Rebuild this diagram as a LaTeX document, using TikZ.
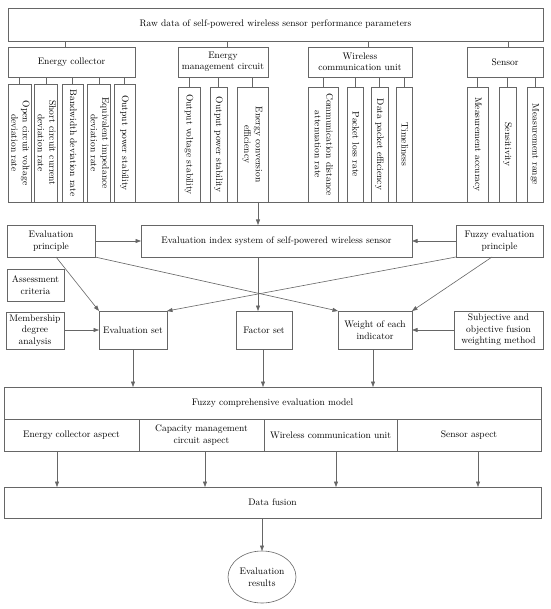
\documentclass[tikz,border=0pt]{standalone}
\usepackage{graphicx}
\usetikzlibrary{arrows.meta,shapes.geometric}
\begin{document}
\begin{tikzpicture}[x=1pt,y=-1pt,
  every node/.style={font=\fontsize{9.5}{11.5}\selectfont, inner sep=0pt, outer sep=0pt, align=center, text=black},
  bx/.style n args={2}{draw=black!60, line width=0.6pt, minimum width=#1pt, minimum height=#2pt},
  ln/.style={draw=black!60, line width=0.6pt},
  arr/.style={draw=black!60, line width=0.6pt, -{Triangle[length=5.5pt,width=4pt]}, shorten >=0pt}
]
\useasboundingbox[fill=white] (0,0) rectangle (550,609);
\newcommand{\rt}[1]{\rotatebox{-90}{\begin{tabular}{@{}c@{}}#1\end{tabular}}}
% top
\node[bx={535}{33}] (raw) at (275.5,24.5) {Raw data of self-powered wireless sensor performance parameters};
\node[bx={127}{30}] (ec) at (71.5,62) {Energy collector};
\node[bx={90}{30}] (emc) at (223,62) {Energy\\management circuit};
\node[bx={104}{30}] (wcu) at (360,62) {Wireless\\communication unit};
\node[bx={76}{30}] (sen) at (505,62) {Sensor};
\draw[ln] ([xshift=-6.5pt]ec.north) -- ([xshift=-6.5pt]ec.north |- raw.south);
\draw[ln] ([xshift=4pt]emc.north) -- ([xshift=4pt]emc.north |- raw.south);
\draw[ln] ([xshift=8pt]wcu.north) -- ([xshift=8pt]wcu.north |- raw.south);
\draw[ln] ([xshift=3pt]sen.north) -- ([xshift=3pt]sen.north |- raw.south);
% sub boxes
\node[bx={23}{118}] (ec1) at (19.5,143) {\rt{Open circuit voltage\\deviation rate}};
\node[bx={22}{118}] (ec2) at (46,143) {\rt{Short circuit current\\deviation rate}};
\node[bx={21}{118}] (ec3) at (72.5,143) {\rt{Bandwidth deviation rate}};
\node[bx={22}{118}] (ec4) at (99,143) {\rt{Equivalent impedance\\deviation rate}};
\node[bx={21}{118}] (ec5) at (124.5,143) {\rt{Output power stability}};
\node[bx={22}{115}] (emc1) at (189,144.5) {\rt{Output voltage stability}};
\node[bx={17}{115}] (emc2) at (218.5,144.5) {\rt{Output power stability}};
\node[bx={31}{115}] (emc3) at (252.5,144.5) {\rt{Energy conversion\\efficiency}};
\node[bx={30}{115}] (wcu1) at (323,144.5) {\rt{Communication distance\\attenuation rate}};
\node[bx={16}{115}] (wcu2) at (355,144.5) {\rt{Packet loss rate}};
\node[bx={17}{115}] (wcu3) at (379.5,144.5) {\rt{Data packet efficiency}};
\node[bx={16}{115}] (wcu4) at (404,144.5) {\rt{Timeliness}};
\node[bx={21}{115}] (sen1) at (477.5,144.5) {\rt{Measurement accuracy}};
\node[bx={17}{115}] (sen2) at (507.5,144.5) {\rt{Sensitivity}};
\node[bx={16}{115}] (sen3) at (535,144.5) {\rt{Measurement range}};
\foreach \c in {ec1,ec2,ec3,ec4,ec5} \draw[ln] (\c.north) -- (\c.north |- ec.south);
\foreach \c in {emc1,emc2,emc3} \draw[ln] (\c.north) -- (\c.north |- emc.south);
\foreach \c in {wcu1,wcu2,wcu3,wcu4} \draw[ln] (\c.north) -- (\c.north |- wcu.south);
\foreach \c in {sen1,sen2,sen3} \draw[ln] (\c.north) -- (\c.north |- sen.south);
\draw[ln] (ec1.south west) -- (sen3.south east);
% middle
\node[bx={88}{32}] (ep) at (51,241) {Evaluation\\principle};
\node[bx={271}{32}] (idx) at (276.5,241) {Evaluation index system of self-powered wireless sensor};
\node[bx={87}{32}] (fep) at (499.5,241) {Fuzzy evaluation\\principle};
\coordinate (bus) at (258,202);
\draw[arr] (bus) -- (bus |- idx.north);
\draw[arr] (ep.east) -- (idx.west);
\draw[arr] (fep.west) -- (idx.east);
\node[bx={57}{32}] (ac) at (35.5,285) {Assessment\\criteria};
\node[bx={58}{37}] (mda) at (35,330.5) {Membership\\degree\\analysis};
\node[bx={68}{38}] (es) at (133,330) {Evaluation set};
\node[bx={56}{38}] (fs) at (264,330) {Factor set};
\node[bx={74}{38}] (wei) at (375,330) {Weight of each\\indicator};
\node[bx={89}{38}] (sub) at (498.5,330) {Subjective and\\objective fusion\\weighting method};
\draw[arr] (mda.east |- es.west) -- (es.west);
\draw[arr] (sub.west) -- (wei.east);
\draw[arr] (bus |- idx.south) -- (bus |- fs.north);
\draw[arr] ([xshift=5pt]ep.south) -- (es.north west);
\draw[arr] (ep.south east) -- (wei.north west);
\draw[arr] (fep.south west) -- (es.north east);
\draw[arr] ([xshift=-7.5pt]fep.south) -- (wei.north east);
% lower
\node[bx={537}{32}] (fz) at (272.5,403) {Fuzzy comprehensive evaluation model};
\node[bx={135}{32}] (a1) at (71.5,435) {Energy collector aspect};
\node[bx={125}{32}] (a2) at (201.5,435) {Capacity management\\circuit aspect};
\node[bx={133}{32}] (a3) at (330.5,435) {Wireless communication unit};
\node[bx={144}{32}] (a4) at (469,435) {Sensor aspect};
\draw[arr] (es.south) -- (es.south |- fz.north);
\draw[arr] ([xshift=-1pt]fs.south) -- ([xshift=-1pt]fs.south |- fz.north);
\draw[arr] ([xshift=-2pt]wei.south) -- ([xshift=-2pt]wei.south |- fz.north);
\node[bx={537}{31}] (df) at (272.5,502.5) {Data fusion};
\draw[arr] ([xshift=-14.5pt]a1.south) -- ([xshift=-14.5pt]a1.south |- df.north);
\draw[arr] ([xshift=3.5pt]a2.south) -- ([xshift=3.5pt]a2.south |- df.north);
\draw[arr] ([xshift=5.5pt]a3.south) -- ([xshift=5.5pt]a3.south |- df.north);
\draw[arr] ([xshift=9pt]a4.south) -- ([xshift=9pt]a4.south |- df.north);
\node[ellipse, draw=black!60, line width=0.6pt, minimum width=68pt, minimum height=52pt] (res) at (262,577) {Evaluation\\results};
\draw[arr] (res.north |- df.south) -- (res.north);
\end{tikzpicture}
\end{document}
